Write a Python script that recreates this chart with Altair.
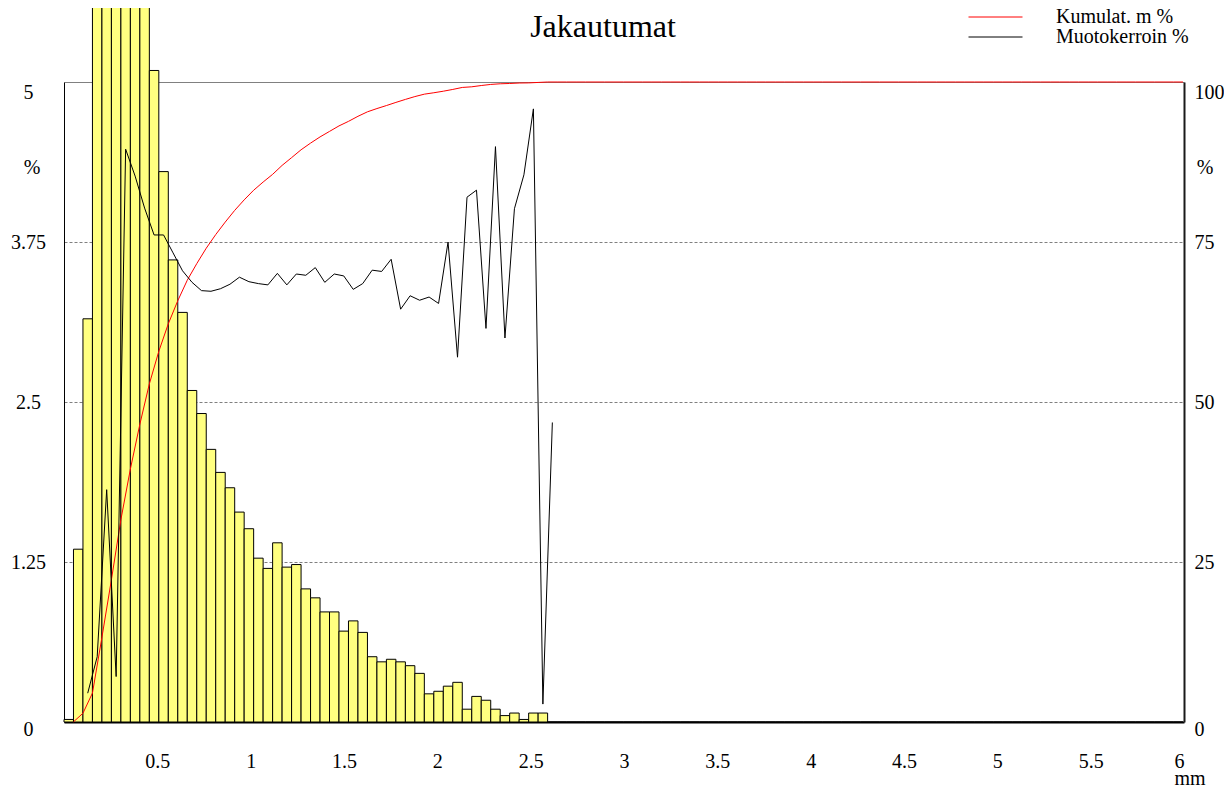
import altair as alt
import pandas as pd

# ---------------- values ----------------
TITLE = "Jakautumat"
SERIES = ["Kumulat. m %", "Muotokerroin %"]
BIN_WIDTH_MM = 0.0508      # width of one size class on the mm axis
N_BINS = 118               # classes drawn up to the end of the axis (6 mm)

# histogram, % per class (classes 0..50; the rest are empty)
HIST_PCT = [0.02, 1.35, 3.15, 8.71, 9.0, 9.4, 7.9, 7.0, 6.3, 5.09,
            4.30, 3.61, 3.20, 2.59, 2.41, 2.13, 1.95, 1.83, 1.64, 1.51,
            1.28, 1.20, 1.40, 1.21, 1.23, 1.04, 0.97, 0.86, 0.86, 0.71,
            0.79, 0.70, 0.51, 0.47, 0.49, 0.47, 0.44, 0.38, 0.22, 0.24,
            0.28, 0.31, 0.10, 0.20, 0.17, 0.10, 0.05, 0.07, 0.02, 0.07,
            0.07]

# shape factor %, at class centres, starting with class 2
SHAPE_FIRST_BIN = 2
SHAPE_PCT = [4.5, 10.2, 36.3, 7.1, 89.5, 85.3, 80.3, 76.1, 76.1, 73.3,
             70.5, 68.7, 67.4, 67.3, 67.7, 68.4, 69.5, 68.8, 68.5, 68.3,
             70.1, 68.3, 70.0, 69.8, 71.0, 68.7, 70.0, 69.7, 67.6, 68.5,
             70.6, 70.4, 72.3, 64.5, 66.6, 65.9, 66.4, 65.4, 75.0, 57.0,
             82.0, 83.1, 61.5, 89.9, 60.0, 80.2, 85.5, 95.8, 2.8, 46.8]

X_TICKS = [0.5, 1, 1.5, 2, 2.5, 3, 3.5, 4, 4.5, 5, 5.5, 6]
LEFT_TICKS = [0, 1.25, 2.5, 3.75, 5]
RIGHT_TICKS = [0, 25, 50, 75, 100]

FONT = "Liberation Serif"

# ---------------- tables ----------------
hist = HIST_PCT + [0.0] * (N_BINS - len(HIST_PCT))
bars_df = pd.DataFrame({
    "x0": [i * BIN_WIDTH_MM for i in range(N_BINS)],
    "x1": [(i + 1) * BIN_WIDTH_MM for i in range(N_BINS)],
    "pct": hist,
})
cum_df = pd.DataFrame({
    "x": bars_df["x1"],
    "value": bars_df["pct"].cumsum().clip(upper=100),
    "series": SERIES[0],
})
shape_df = pd.DataFrame({
    "x": [(SHAPE_FIRST_BIN + k + 0.5) * BIN_WIDTH_MM for k in range(len(SHAPE_PCT))],
    "value": SHAPE_PCT,
    "series": SERIES[1],
})
lines_df = pd.concat([cum_df, shape_df], ignore_index=True)

xscale = alt.Scale(domain=[0, 6], nice=False, zero=False)
LABEL_EXPR = "'' + datum.value"


def x_axis():
    return alt.Axis(
        values=X_TICKS, labelExpr=LABEL_EXPR, title=None, orient="bottom",
        ticks=False, tickSize=0, grid=False,
        domain=True, domainColor="#000000", domainWidth=2,
        labelFont=FONT, labelFontSize=20, labelColor="#000000",
        labelBaseline="middle", labelPadding=39, labelFlush=True, labelOverlap=False,
    )


left_axis = alt.Axis(
    orient="left", values=LEFT_TICKS, labelExpr=LABEL_EXPR, title=None,
    ticks=False, tickSize=0,
    domain=True, domainColor="#000000", domainWidth=1,
    grid=True, gridColor="#808080", gridWidth=1,
    gridDash={"condition": {"test": "datum.value == 5", "value": []}, "value": [3, 2]},
    gridOpacity={"condition": {"test": "datum.value == 0", "value": 0}, "value": 1},
    labelFont=FONT, labelFontSize=20, labelColor="#000000",
    labelAlign="center", labelPadding=36, labelFlush=False, labelOverlap=False,
    labelBaseline={"condition": {"test": "datum.value == 5", "value": "top"}, "value": "middle"},
    labelOffset={"condition": {"test": "datum.value == 0", "value": 7}, "value": 0},
)

right_axis = alt.Axis(
    orient="right", values=RIGHT_TICKS, labelExpr=LABEL_EXPR, title=None,
    ticks=False, tickSize=0, grid=False,
    domain=True, domainColor="#1a1a1a", domainWidth=2,
    labelFont=FONT, labelFontSize=20, labelColor="#000000",
    labelAlign="left", labelPadding=10, labelFlush=False, labelOverlap=False,
    labelBaseline={"condition": {"test": "datum.value == 100", "value": "top"}, "value": "middle"},
    labelOffset={"condition": {"test": "datum.value == 0", "value": 7}, "value": 0},
)

bars = alt.Chart(bars_df).mark_rect(
    fill="#FFFF80", stroke="#000000", strokeWidth=1
).encode(
    x=alt.X("x0:Q", scale=xscale, axis=x_axis()),
    x2="x1:Q",
    y=alt.Y("pct:Q", scale=alt.Scale(domain=[0, 5], nice=False, zero=True), axis=left_axis),
    y2=alt.datum(0),
)

legend = alt.Legend(
    orient="none", legendX=904, legendY=-75, title=None,
    symbolType="stroke", symbolSize=2916, symbolStrokeWidth=1,
    clipHeight=20, rowPadding=0, padding=0,
    labelFont=FONT, labelFontSize=20, labelColor="#000000",
    labelOffset=33, labelLimit=300, labelBaseline="middle",
)

lines = alt.Chart(lines_df).mark_line(strokeWidth=1).encode(
    x=alt.X("x:Q", scale=xscale, axis=x_axis()),
    y=alt.Y("value:Q", scale=alt.Scale(domain=[0, 100], nice=False), axis=right_axis),
    color=alt.Color("series:N", scale=alt.Scale(domain=SERIES, range=["#FF0000", "#000000"]),
                    legend=legend),
    detail="series:N",
)


def text_layer(txt, x, y, size=20, align="center", baseline="middle"):
    return alt.Chart(pd.DataFrame({"t": [txt]})).mark_text(
        font=FONT, fontSize=size, color="#000000", align=align, baseline=baseline
    ).encode(text="t:N", x=alt.value(x), y=alt.value(y))


title = text_layer(TITLE, 539, -45, size=32, baseline="alphabetic")
pct_left = text_layer("%", -32, 86)
pct_right = text_layer("%", 1141, 86)
mm = text_layer("mm", 1126, 703, baseline="alphabetic")

chart = alt.layer(bars, lines, title, pct_left, pct_right, mm).resolve_scale(
    y="independent"
).properties(
    width=1120, height=640,
    padding={"left": 56, "top": 74, "right": 40, "bottom": 66},
    autosize=alt.AutoSizeParams(type="none"),
    background="#FFFFFF",
).configure_view(strokeWidth=0)

chart.save("out.html", embed_options={"renderer": "svg", "actions": False})
